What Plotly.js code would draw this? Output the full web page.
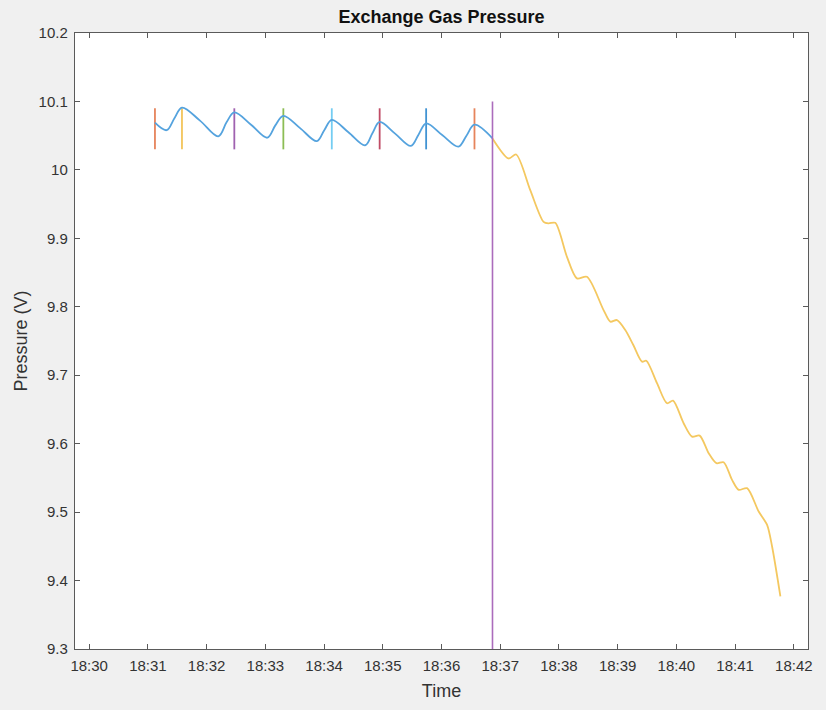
<!DOCTYPE html>
<html>
<head>
<meta charset="utf-8">
<script src="https://cdn.plot.ly/plotly-3.0.1.min.js"></script>
<style>html,body{margin:0;padding:0;background:#f0f0f0;}#chart{width:826px;height:710px;}</style>
</head>
<body>
<div id="chart"></div>
<script>
// ---- data ----
const day = '2024-01-01 ';

// before pump-down (blue)
const stableTimes = ['18:31:07.2','18:31:19.1','18:31:27.1','18:31:34.8','18:31:53.2','18:32:11.9','18:32:20.5','18:32:28.3',
  '18:32:45.4','18:33:02.0','18:33:10.2','18:33:18.4','18:33:35.5','18:33:52.6','18:34:00.2','18:34:07.9',
  '18:34:24.9','18:34:41.9','18:34:49.4','18:34:56.8','18:35:12.6','18:35:28.7','18:35:36.5','18:35:44.3',
  '18:36:00.7','18:36:17.3','18:36:25.5','18:36:33.7','18:36:52.1'];
const stableValues = [10.069,10.058,10.0755,10.091,10.072,10.049,10.070,10.084,
  10.066,10.047,10.065,10.079,10.061,10.042,10.058,10.073,
  10.055,10.036,10.0536,10.070,10.053,10.035,10.0514,10.068,
  10.051,10.034,10.050,10.066,10.046];

// pump-down (yellow)
const dropTimes = ['18:36:52.1','18:37:08.5','18:37:16.3','18:37:30.7','18:37:44.3','18:37:49.4','18:37:56.2','18:38:08.2',
  '18:38:18.4','18:38:28.6','18:38:45.6','18:38:52.5','18:38:59.3','18:39:07.8','18:39:16.0','18:39:24.9',
  '18:39:29.3','18:39:40.2','18:39:50.4','18:39:56.6','18:40:07.4','18:40:16.0','18:40:23.8','18:40:33.0',
  '18:40:40.9','18:40:48.3','18:40:56.9','18:41:03.7','18:41:12.2','18:41:24.1','18:41:32.7','18:41:37.8','18:41:46.3'];
const dropValues = [10.046,10.0167,10.0225,9.9704,9.9241,9.9218,9.9227,9.8730,
  9.8415,9.8438,9.7952,9.7782,9.7806,9.7661,9.7442,9.7198,
  9.7212,9.6883,9.6591,9.6629,9.6299,9.6103,9.6118,9.5861,
  9.5715,9.5729,9.5471,9.5325,9.5350,9.5008,9.4814,9.4497,9.3768];

// event markers (short vertical lines at the peaks)
const markerTimes = ['18:31:07.2','18:31:34.8','18:32:28.3','18:33:18.4','18:34:07.9','18:34:56.8','18:35:44.3','18:36:33.7'];
const markerLow = 10.03;
const markerHigh = 10.09;

// pump-down start marker
const startTime = '18:36:52.1';
const startLow = 9.3;
const startHigh = 10.1;

const xTickStart = '18:30:00';
const xRange = ['18:29:45.5', '18:42:14.5'];
const yRange = [9.3, 10.2];

// ---- styling ----
const markerColors = ['#e6845c','#f3c55a','#a062b0','#8cbd55','#74cdf2','#c04c66','#4193d3','#e6845c'];
const startColor = '#ab6cbc';
const blueColor = '#55a3de';
const yellowColor = '#f4c860';
const axisColor = '#5a5a5a';
const textColor = '#333333';
const fontFam = '"Liberation Sans", Arial, Helvetica, sans-serif';

const traces = [];
markerTimes.forEach((t, i) => {
  traces.push({x:[day+t, day+t], y:[markerLow, markerHigh], mode:'lines',
    line:{color:markerColors[i], width:1.8}, hoverinfo:'skip', showlegend:false});
});
traces.push({x:stableTimes.map(t=>day+t), y:stableValues, mode:'lines',
  line:{color:blueColor, width:1.8, shape:'spline', smoothing:1}, showlegend:false});
traces.push({x:dropTimes.map(t=>day+t), y:dropValues, mode:'lines',
  line:{color:yellowColor, width:1.8, shape:'spline', smoothing:0.8}, showlegend:false});
traces.push({x:[day+startTime, day+startTime], y:[startLow, startHigh], mode:'lines',
  line:{color:startColor, width:1.6}, showlegend:false});

const axisCommon = {
  showline:true, linecolor:axisColor, linewidth:1.2, mirror:'ticks',
  ticks:'inside', ticklen:5, tickwidth:1, tickcolor:axisColor,
  showgrid:false, zeroline:false,
  tickfont:{family:fontFam, size:15, color:textColor}
};

const layout = {
  width:826, height:710,
  paper_bgcolor:'#f0f0f0', plot_bgcolor:'#ffffff',
  margin:{l:75, r:18, t:33, b:61},
  title:{text:'<b>Exchange Gas Pressure</b>', font:{family:fontFam, size:18, color:'#111'},
    x:0.5, xref:'paper', xanchor:'center', y:1-17/710, yref:'container', yanchor:'middle'},
  xaxis:Object.assign({}, axisCommon, {
    type:'date', range:xRange.map(t=>day+t), tick0:day+xTickStart, dtick:60000,
    tickformat:'%H:%M', ticklabelstandoff:3,
    title:{text:'Time', font:{family:fontFam, size:18, color:textColor}, standoff:11}
  }),
  yaxis:Object.assign({}, axisCommon, {
    range:yRange, dtick:0.1, tick0:9.3, tickformat:'.1~f', ticklabelstandoff:3,
    title:{text:'Pressure (V)', font:{family:fontFam, size:18, color:textColor}, standoff:6}
  })
};

Plotly.newPlot('chart', traces, layout, {displayModeBar:false, staticPlot:true});
</script>
</body>
</html>
